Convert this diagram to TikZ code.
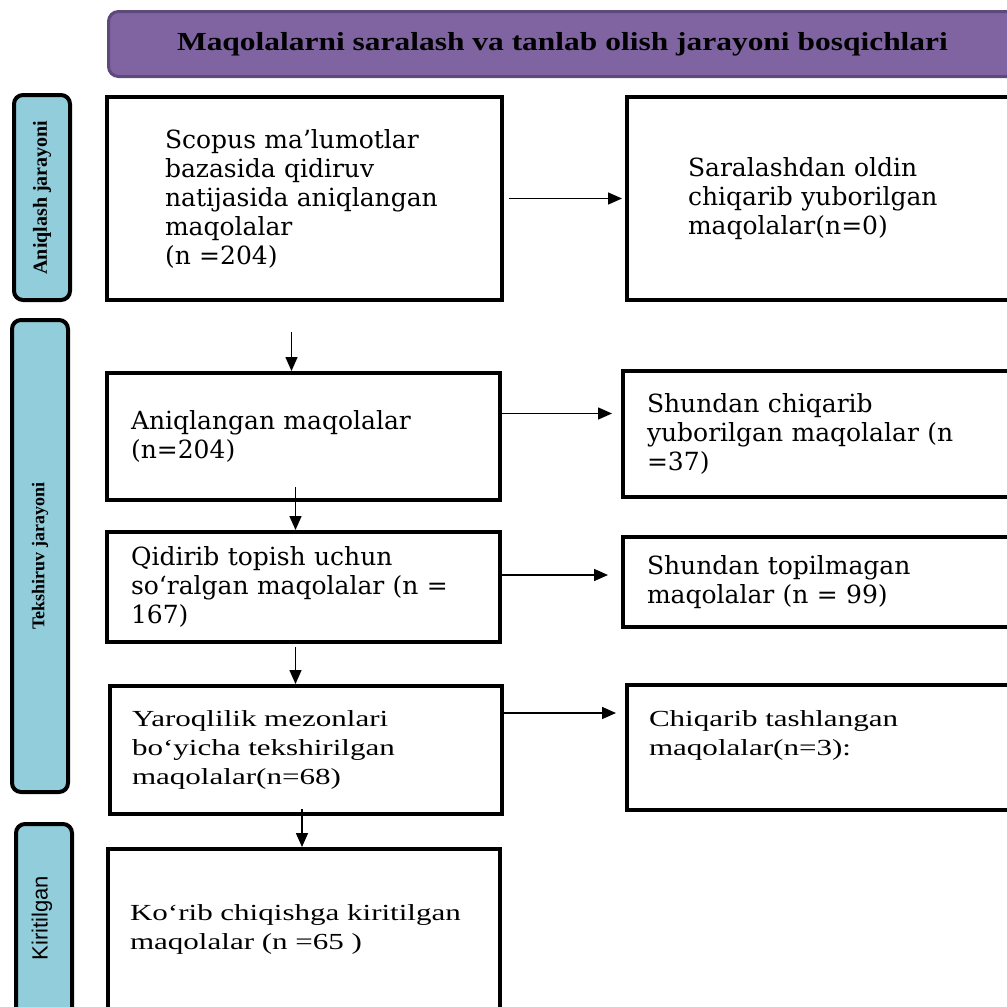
\documentclass[tikz,border=0pt]{standalone}
\usepackage{fontspec}
\usepackage{tikz}
\usetikzlibrary{arrows.meta, positioning, calc}
\usepackage{xcolor}
\newfontfamily\boxfont{DejaVu Serif}
\newfontfamily\timesfont{Liberation Serif}
\newfontfamily\timeswide[FakeStretch=1.35]{Liberation Serif}
\newfontfamily\titlefont[FakeStretch=1.21]{Liberation Serif}
\newfontfamily\arialfont{Liberation Sans}
\definecolor{titlepurple}{HTML}{8064A2}
\definecolor{titleedge}{HTML}{5E4A7A}
\definecolor{stageblue}{HTML}{92CDDC}
\hyphenpenalty=10000
\exhyphenpenalty=10000

\tikzset{
    stepbox/.style={draw, line width=4pt, anchor=north west, align=left, inner xsep=24pt, inner ysep=0pt,
        font=\boxfont\fontsize{25}{29}\selectfont},
    stepboxt/.style={stepbox, inner xsep=22pt, font=\timeswide\fontsize{23}{29}\selectfont},
    stage/.style={draw, line width=4pt, rounded corners=9pt, fill=stageblue, anchor=north west,
        minimum width=56pt, inner sep=0pt},
    arr/.style={line width=1.5pt, -{Triangle[length=14pt,width=12pt]}},
}

\begin{document}
\begin{tikzpicture}[x=1pt, y=-1pt]
            \useasboundingbox (0,0) rectangle (1007,1007);

            % title bar
            \node[draw=titleedge, fill=titlepurple, line width=3pt, rounded corners=10pt, anchor=north west,
                minimum width=908pt, minimum height=65pt] (title) at (107,10)
                {\titlefont\bfseries\fontsize{26}{30}\selectfont Maqolalarni saralash va tanlab olish jarayoni bosqichlari};

            % stages on the left
            \node[stage, minimum height=205pt] (s1) at (12,93) {};
            \node[rotate=90, font=\timesfont\bfseries\fontsize{20}{22}\selectfont] at (s1) {Aniqlash jarayoni};
            \node[stage, minimum height=472pt] (s2) at (10,318) {};
            \node[rotate=90, font=\timesfont\bfseries\fontsize{18}{22}\selectfont] at (s2) {Tekshiruv jarayoni};
            \node[stage, minimum height=200pt] (s3) at (14,822) {};
            \node[rotate=90, font=\arialfont\fontsize{22}{24}\selectfont] at (42,918) {Kiritilgan};

            % boxes
            \node[stepbox, inner xsep=58pt, text width=279pt, minimum height=203pt] (scopus) at (105,95)
                {Scopus ma’lumotlar\\bazasida qidiruv\\natijasida aniqlangan\\maqolalar\\(n =204)};
            \node[stepbox, inner xsep=61pt, text width=290pt, minimum height=203pt] (saral) at (625,95)
                {Saralashdan oldin\\chiqarib yuborilgan\\maqolalar(n=0)};
            \node[stepbox, text width=345pt, minimum height=127pt] (aniq) at (105,371)
                {Aniqlangan maqolalar\\(n=204)};
            \node[stepbox, text width=345pt, minimum height=126pt] (shund1) at (621,369)
                {Shundan chiqarib\\yuborilgan maqolalar (n\\=37)};
            \node[stepbox, text width=345pt, minimum height=110pt] (qidir) at (105,530)
                {Qidirib topish uchun\\so‘ralgan maqolalar (n =\\167)};
            \node[stepbox, text width=345pt, minimum height=90pt] (shund2) at (621,535)
                {Shundan topilmagan\\maqolalar (n = 99)};
            \node[stepboxt, text width=348pt, minimum height=128pt] (yaroq) at (108,684)
                {Yaroqlilik mezonlari\\bo‘yicha tekshirilgan\\maqolalar(n=68)};
            \node[stepboxt, text width=345pt, minimum height=125pt] (chiq) at (625,683)
                {Chiqarib tashlangan\\maqolalar(n=3):\\\mbox{}};
            \node[stepboxt, text width=348pt, minimum height=160pt] (korib) at (106,847)
                {Ko‘rib chiqishga kiritilgan\\maqolalar (n =65 )};

            % arrows to the right
            \draw[arr, shorten <=5pt, shorten >=3pt] (scopus.east) -- (saral.west);
            \draw[arr, shorten >=9pt] ([yshift=23pt]aniq.east) -- ([yshift=23pt]aniq.east -| shund1.west);
            \draw[arr, shorten <=-4pt, shorten >=13pt] ([yshift=12pt]qidir.east) -- ([yshift=12pt]qidir.east -| shund2.west);
            \draw[arr, shorten >=9pt] ([yshift=37pt]yaroq.east) -- ([yshift=37pt]yaroq.east -| chiq.west);

            % arrows down
            \draw[arr, shorten <=30pt] ([xshift=-13pt]scopus.south) -- ([xshift=-13pt]scopus.south |- aniq.north);
            \draw[arr, shorten <=-15pt] ([xshift=-8pt]aniq.south) -- ([xshift=-8pt]aniq.south |- qidir.north);
            \draw[arr, shorten <=3pt] ([xshift=-8pt]qidir.south) -- ([xshift=-8pt]qidir.south |- yaroq.north);
            \draw[arr, shorten <=-7pt] ([xshift=-4pt]yaroq.south) -- ([xshift=-4pt]yaroq.south |- korib.north);
        \end{tikzpicture}
\end{document}
